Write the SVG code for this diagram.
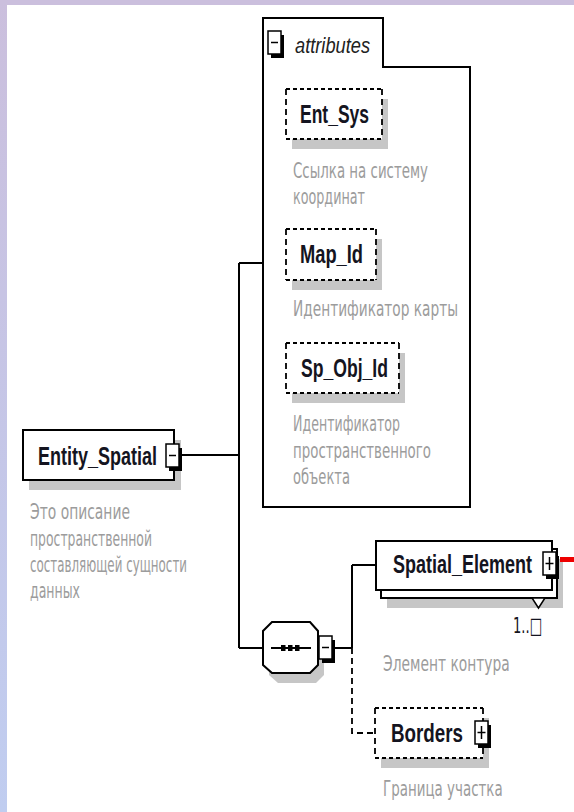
<svg xmlns="http://www.w3.org/2000/svg" width="574" height="812" viewBox="0 0 574 812">
<defs>
<linearGradient id="side" x1="0" y1="0" x2="0" y2="1">
<stop offset="0" stop-color="#cbbfdd"/>
<stop offset="1" stop-color="#c0cdf0"/>
</linearGradient>
<g id="icon-minus">
<rect x="3" y="4" width="13" height="23" fill="#000"/>
<rect x="0" y="0" width="13" height="23" fill="#fff" stroke="#000" stroke-width="1.5"/>
<line x1="3" y1="11.5" x2="10" y2="11.5" stroke="#000" stroke-width="1.5"/>
</g>
<g id="icon-plus">
<rect x="3" y="4" width="13" height="23" fill="#000"/>
<rect x="0" y="0" width="13" height="23" fill="#fff" stroke="#000" stroke-width="1.5"/>
<line x1="2.5" y1="11.5" x2="10.5" y2="11.5" stroke="#000" stroke-width="1.5"/>
<line x1="6.5" y1="5" x2="6.5" y2="18" stroke="#000" stroke-width="1.5"/>
</g>
</defs>
<style>
.name{font-family:"Liberation Sans",Arial,sans-serif;font-weight:bold;font-size:25px;fill:#141420;}
.desc{font-family:"DejaVu Sans","Liberation Sans",sans-serif;font-size:22px;fill:#9c9c9c;}
.ital{font-family:"Liberation Sans",Arial,sans-serif;font-style:italic;font-size:22px;fill:#222;}
.box{fill:#fff;stroke:#000;stroke-width:2;}
.fill{fill:#fff;}
.shadow{fill:#c6c6c6;}
.dh{fill:none;stroke:#000;stroke-width:2;stroke-dasharray:4 3;}
.dv{fill:none;stroke:#000;stroke-width:1.8;stroke-dasharray:6 4;}
.wire{fill:none;stroke:#000;stroke-width:2;}
.wired{fill:none;stroke:#000;stroke-width:1.8;stroke-dasharray:6 4;}
</style>
<g id="background">
<rect x="0" y="0" width="574" height="812" fill="#fff"/>
<rect x="0" y="0" width="574" height="5" fill="#cbbfdd"/>
<rect x="0" y="0" width="7" height="812" fill="url(#side)"/>
</g>
<g id="connectors">
<path class="wire" d="M180,455 H239 M239,263 V648 M239,263 H263 M239,648 H263"/>
<path class="wire" d="M334,648 H352 M352,565 V648 M352,565 H376"/>
<path class="wired" d="M352,648 V733 H375"/>
</g>
<g id="node-attributes">
<path class="box" d="M263,507 V18 H383 V67 H470 V507 Z"/>
<use href="#icon-minus" x="268" y="31"/>
<text class="ital" x="295" y="53" textLength="75" lengthAdjust="spacingAndGlyphs">attributes</text>
</g>
<g id="node-Ent_Sys">
<rect class="shadow" x="292" y="99" width="96" height="50"/>
<rect class="fill" x="286" y="89" width="96" height="50"/>
<path class="dh" d="M286,89 H382 M286,139 H382"/>
<path class="dv" d="M286,89 V139 M382,89 V139"/>
<text class="name" x="300" y="123" textLength="69" lengthAdjust="spacingAndGlyphs">Ent_Sys</text>
<text class="desc" x="293" y="178" textLength="135" lengthAdjust="spacingAndGlyphs">Ссылка на систему</text>
<text class="desc" x="293" y="204" textLength="72" lengthAdjust="spacingAndGlyphs">координат</text>
</g>
<g id="node-Map_Id">
<rect class="shadow" x="292" y="239" width="90" height="51"/>
<rect class="fill" x="286" y="229" width="90" height="51"/>
<path class="dh" d="M286,229 H376 M286,280 H376"/>
<path class="dv" d="M286,229 V280 M376,229 V280"/>
<text class="name" x="300" y="263" textLength="63" lengthAdjust="spacingAndGlyphs">Map_Id</text>
<text class="desc" x="293" y="316" textLength="165" lengthAdjust="spacingAndGlyphs">Идентификатор карты</text>
</g>
<g id="node-Sp_Obj_Id">
<rect class="shadow" x="292" y="353" width="113" height="50"/>
<rect class="fill" x="286" y="343" width="113" height="50"/>
<path class="dh" d="M286,343 H399 M286,393 H399"/>
<path class="dv" d="M286,343 V393 M399,343 V393"/>
<text class="name" x="301" y="377" textLength="87" lengthAdjust="spacingAndGlyphs">Sp_Obj_Id</text>
<text class="desc" x="293" y="431" textLength="107" lengthAdjust="spacingAndGlyphs">Идентификатор</text>
<text class="desc" x="293" y="458" textLength="138" lengthAdjust="spacingAndGlyphs">пространственного</text>
<text class="desc" x="293" y="484" textLength="57" lengthAdjust="spacingAndGlyphs">объекта</text>
</g>
<g id="node-Entity_Spatial">
<rect class="shadow" x="29" y="440" width="152" height="50"/>
<rect class="box" x="23" y="430" width="151" height="50"/>
<text class="name" x="38" y="465" textLength="119" lengthAdjust="spacingAndGlyphs">Entity_Spatial</text>
<use href="#icon-minus" x="166" y="444"/>
<text class="desc" x="30" y="519" textLength="100" lengthAdjust="spacingAndGlyphs">Это описание</text>
<text class="desc" x="30" y="546" textLength="122" lengthAdjust="spacingAndGlyphs">пространственной</text>
<text class="desc" x="30" y="572" textLength="157" lengthAdjust="spacingAndGlyphs">составляющей сущности</text>
<text class="desc" x="30" y="598" textLength="50" lengthAdjust="spacingAndGlyphs">данных</text>
</g>
<g id="node-sequence">
<polygon class="shadow" points="278,632 316,632 324,641 324,675 316,683 278,683 269,675 269,641"/>
<polygon class="box" points="272,622 310,622 318,631 318,665 310,673 272,673 263,665 263,631"/>
<line x1="271" y1="648" x2="311" y2="648" stroke="#000" stroke-width="2"/>
<rect x="281" y="645" width="4.5" height="6" fill="#000"/>
<rect x="288" y="645" width="4.5" height="6" fill="#000"/>
<rect x="295" y="645" width="4.5" height="6" fill="#000"/>
<use href="#icon-minus" x="319" y="636"/>
</g>
<g id="node-Spatial_Element">
<rect class="shadow" x="387" y="559" width="176" height="49"/>
<rect class="box" x="381" y="549" width="176" height="49"/>
<rect class="box" x="376" y="541" width="176" height="49"/>
<polygon points="532,598 545,598 538.5,608" fill="#fff" stroke="#000" stroke-width="1.5"/>
<text class="name" transform="translate(393 573) scale(0.72 1)" x="0" y="0">Spatial_Element</text>
<use href="#icon-plus" x="543" y="552"/>
<rect x="560" y="557" width="14" height="5" fill="#ee0000"/>
<text x="513" y="633" font-family="DejaVu Sans, sans-serif" font-size="22" fill="#141420" textLength="29" lengthAdjust="spacingAndGlyphs">1..□</text>
<text class="desc" transform="translate(383 671) scale(0.64 1)" x="0" y="0" textLength="198" lengthAdjust="spacingAndGlyphs">Элемент контура</text>
</g>
<g id="node-Borders">
<rect class="shadow" x="381" y="718" width="108" height="50"/>
<rect class="fill" x="375" y="708" width="108" height="50"/>
<path class="dh" d="M375,708 H483 M375,758 H483"/>
<path class="dv" d="M375,708 V758 M483,708 V758"/>
<text class="name" x="391" y="742" textLength="72" lengthAdjust="spacingAndGlyphs">Borders</text>
<use href="#icon-plus" x="475" y="721"/>
<text class="desc" transform="translate(383 796) scale(0.62 1)" x="0" y="0" textLength="193" lengthAdjust="spacingAndGlyphs">Граница участка</text>
</g>
</svg>
